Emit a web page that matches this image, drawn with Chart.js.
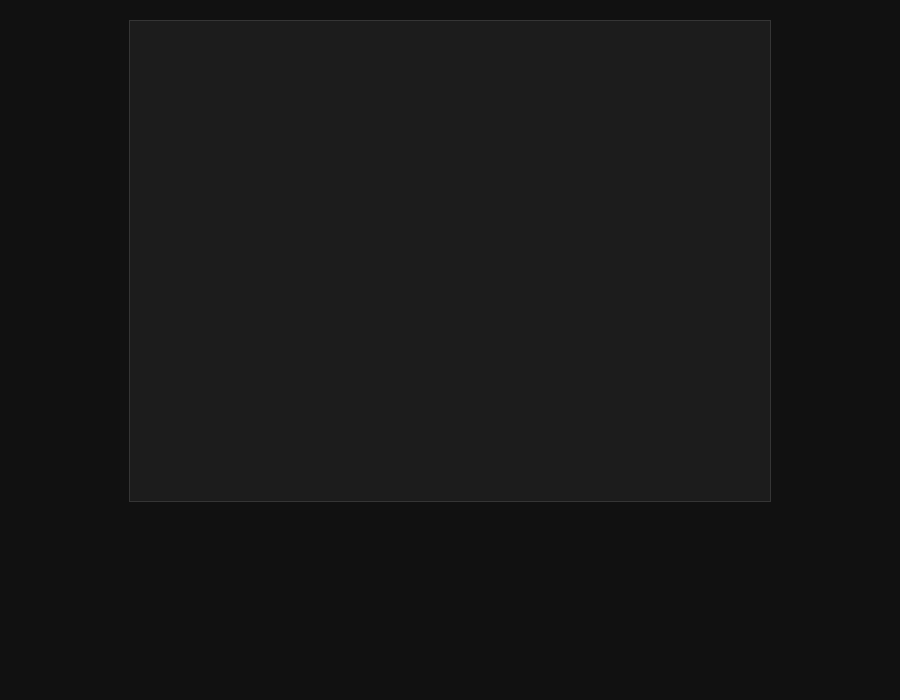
<!DOCTYPE html>
<html>
<head>
<meta charset="utf-8">
<script src="https://cdn.jsdelivr.net/npm/chart.js@4"></script>
<style>
    html, body {
        margin: 0;
        padding: 0;
        background: #111111;
    }
    .chart-box {
        width: 640px;
        height: 480px;
        margin: 20px auto 0;
        border: 1px solid #353535;
        background: #1c1c1c;
        position: relative;
    }
</style>
</head>
<body>
<div class="chart-box">
    <canvas id="main-chart"></canvas>
</div>
<script>
// 圖上沒有可讀的數據：空的類別與數列
const categories = [];
const seriesValues = [];

const ctx = document.getElementById('main-chart');

new Chart(ctx, {
    type: 'bar',
    data: {
        labels: categories,
        datasets: [{
            label: '',
            data: seriesValues,
            backgroundColor: 'rgba(255, 255, 255, 0.6)'
        }]
    },
    options: {
        responsive: true,
        maintainAspectRatio: false,
        animation: false,
        plugins: {
            legend: { display: false },
            tooltip: { enabled: false }
        },
        scales: {
            x: { display: false },
            y: { display: false }
        }
    }
});
</script>
</body>
</html>
